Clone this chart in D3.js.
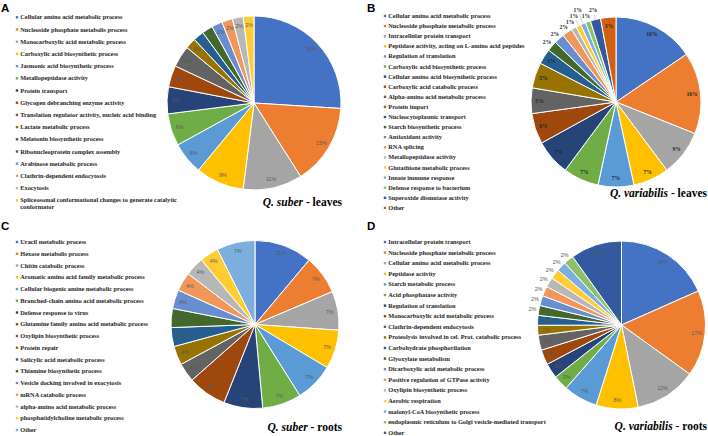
<!DOCTYPE html>
<html><head><meta charset="utf-8">
<script src="https://cdn.jsdelivr.net/npm/d3@7"></script>
<style>body{margin:0;background:#fff}svg{display:block}</style>
</head><body><svg id="c" width="708" height="436"></svg>
<script>
const palette = ["#4472C4","#ED7D31","#A5A5A5","#FFC000","#5B9BD5","#70AD47","#264478","#9E480E","#636363","#997300","#255E91","#43682B","#698ED0","#F1975A","#B7B7B7","#FFCD33","#7CAFDD","#8CC168","#335AA1","#D26012"];

const catA = ["Cellular amino acid metabolic process","Nucleoside phosphate metabolis process","Monocarboxylic acid metabolic process","Carboxylic acid biosynthetic process","Jasmonic acid biosynthetic process","Metallopeptidase activity","Protein transport","Glycogen debranching enzyme activity","Translation regulator activity, nucleic acid binding","Lactate metabolic process","Melatonin biosynthetic process","Ribonucleoprotein complex assembly","Arabinose metabolic process","Clathrin-dependent endocytosis","Exocytosis","Spliceosomal conformational changes to generate catalytic\nconformator"];
const valA = [26,15,11,9,6,6,5,4,4,2,2,2,2,2,2,2];

const catB = ["Cellular amino acid metabolic process","Nucleoside phosphate metabolic process","Intracellular protein transport","Peptidase activity, acting on L-amino acid peptides","Regulation of translation","Carboxylic acid biosynthetic process","Cellular amino acid biosynthetic process","Carboxylic acid catabolic process","Alpha-amino acid metabolic process","Protein import","Nucleocytoplasmic transport","Starch biosynthetic process","Antioxidant activity","RNA splicing","Metallopeptidase activity","Glutathione metabolic process","Innate immune response","Defense response to bacterium","Superoxide dismutase activity","Other"];
const valB = [16,16,9,7,7,7,7,6,5,5,3,2,2,2,1,1,1,1,2,3];

const catC = ["Uracil metabolic process","Hexose metabolis process","Chitin catabolic process","Aromatic amino acid family metabolic process","Cellular biogenic amine metabolic process","Branched-chain amino acid metabolic process","Defense response to virus","Glutamine family amino acid metabolic process","Oxylipin biosynthetic process","Protein repair","Salicylic acid metabolic process","Thiamine biosynthetic process","Vesicle docking involved in exocytosis","mRNA catabolic process","alpha-amino acid metabolic process","phosphatidylcholine metabolic process","Other"];
const valC = [11,7.4,7.4,7.4,7.4,7.4,7.4,7.4,3.6,3.6,3.6,3.6,3.6,3.6,3.6,3.6,7.3];

const catD = ["Intracellular protein transport","Nucleoside phosphate metabolic process","Cellular amino acid metabolic process","Peptidase activity","Starch metabolic process","Acid phosphatase activity","Regulation of translation","Monocarboxylic acid metabolic process","Clathrin-dependent endocytosis","Proteolysis involved in cel. Prot. catabolic process","Carbohydrate phosphorilation","Glyoxylate metabolism","Dicarboxylic acid metabolic process","Positive regulation of GTPase activity","Oxylipin biosynthetic process","Aerobic respiration","malonyl-CoA biosynthetic process","endoplasmic reticulum to Golgi vesicle-mediated transport","Other"];
const valD = [18.4,16.6,11.9,8.1,6.6,2.9,2.9,2.9,2.9,1.9,1.9,1.9,1.9,1.9,1.9,1.9,1.9,1.9,9.9];

const panels = [
  {letter:"A", lx:1, ly:12, cats:catA, vals:valA, cx:254, cy:103, r:87, legX:17, legY:17.3, legStep:12.2,
   species:"Q. suber", tissue:" - leaves", tx:342, ty:206, boldLabels:false, smallOutside:false},
  {letter:"B", lx:367, ly:12, cats:catB, vals:valB, cx:616, cy:102, r:85, legX:385, legY:16, legStep:10.1,
   species:"Q. variabilis", tissue:" - leaves", tx:707, ty:197, boldLabels:true, smallOutside:true},
  {letter:"C", lx:1, ly:230, cats:catC, vals:valC, cx:255, cy:324.5, r:84, legX:17, legY:242, legStep:11.75,
   species:"Q. suber", tissue:" - roots", tx:342, ty:431, boldLabels:false, smallOutside:false},
  {letter:"D", lx:367, ly:230, cats:catD, vals:valD, cx:621.5, cy:325, r:84, legX:385, legY:242, legStep:10.6,
   species:"Q. variabilis", tissue:" - roots", tx:707, ty:430, boldLabels:false, smallOutside:true}
];

const svg = d3.select("#c");
const serif = "'Liberation Serif','Times New Roman',serif";
const sans = "'Liberation Sans',Arial,sans-serif";
const fmt = v => Math.round(v) + "%";

panels.forEach(p => {
  const g = svg.append("g");
  g.append("text").attr("x", p.lx).attr("y", p.ly).text(p.letter)
    .attr("font-family", sans).attr("font-weight", "bold").attr("font-size", 11.5).attr("fill", "#000");

  // legend
  const leg = g.append("g");
  p.cats.forEach((c, i) => {
    const y = p.legY + i * p.legStep;
    leg.append("rect").attr("x", p.legX - 1.2).attr("y", y - 1.2).attr("width", 2.4).attr("height", 2.4)
      .attr("fill", palette[i]);
    const t = leg.append("text").attr("x", p.legX + 3.3).attr("y", y + 2)
      .attr("font-family", serif).attr("font-weight", "bold").attr("font-size", 6.3).attr("fill", "#1e1e1e");
    c.split("\n").forEach((line, j) => {
      t.append("tspan").attr("x", p.legX + 3.3).attr("dy", j ? 6.7 : 0).text(line);
    });
  });

  // pie
  const pie = d3.pie().sort(null).value(d => d);
  const arcs = pie(p.vals);
  const arc = d3.arc().innerRadius(0).outerRadius(p.r);
  const pg = g.append("g").attr("transform", `translate(${p.cx},${p.cy})`);
  pg.selectAll("path").data(arcs).join("path")
    .attr("d", arc).attr("fill", (d, i) => palette[i])
    .attr("stroke", "#fff").attr("stroke-width", 1);

  const fs = p.boldLabels ? 5.6 : 5.4;
  const lblColor = p.boldLabels ? "#262626" : "#5a5a5a";
  const placed = [];
  const bw = p.boldLabels ? 8.5 : 7.6, bh = 5.2;
  arcs.forEach((d, i) => {
    const mid = (d.startAngle + d.endAngle) / 2;
    const outside = p.smallOutside && i >= 11 && d.value < 2.5;
    let R = outside ? p.r + 6.5 : p.r * 0.9;
    let x, y;
    if (outside) {
      for (let k = 0; k < 80; k++) {
        x = Math.sin(mid) * R; y = -Math.cos(mid) * R;
        const ov = placed.some(b => Math.abs(b.x - x) < bw && Math.abs(b.y - y) < bh);
        if (!ov) break;
        R += 1;
      }
      placed.push({x, y});
      if (R > p.r + 9) {
        const r0 = p.r + 1, r1 = R - 4.5;
        pg.append("line")
          .attr("x1", Math.sin(mid) * r0).attr("y1", -Math.cos(mid) * r0)
          .attr("x2", Math.sin(mid) * r1).attr("y2", -Math.cos(mid) * r1)
          .attr("stroke", "#9a9a9a").attr("stroke-width", 0.5);
      }
    } else {
      x = Math.sin(mid) * R; y = -Math.cos(mid) * R;
    }
    pg.append("text").attr("x", x).attr("y", y).attr("dy", "0.35em")
      .attr("text-anchor", "middle")
      .attr("font-family", p.boldLabels ? serif : sans)
      .attr("font-weight", p.boldLabels ? "bold" : "normal")
      .attr("font-size", fs).attr("fill", lblColor)
      .text(fmt(d.value));
  });

  // title
  const tt = g.append("text").attr("x", p.tx).attr("y", p.ty).attr("text-anchor", "end")
    .attr("font-family", serif).attr("font-weight", "bold").attr("font-size", 11.5).attr("fill", "#000");
  tt.append("tspan").attr("font-style", "italic").text(p.species);
  tt.append("tspan").text(p.tissue);
});
</script>
</body></html>
